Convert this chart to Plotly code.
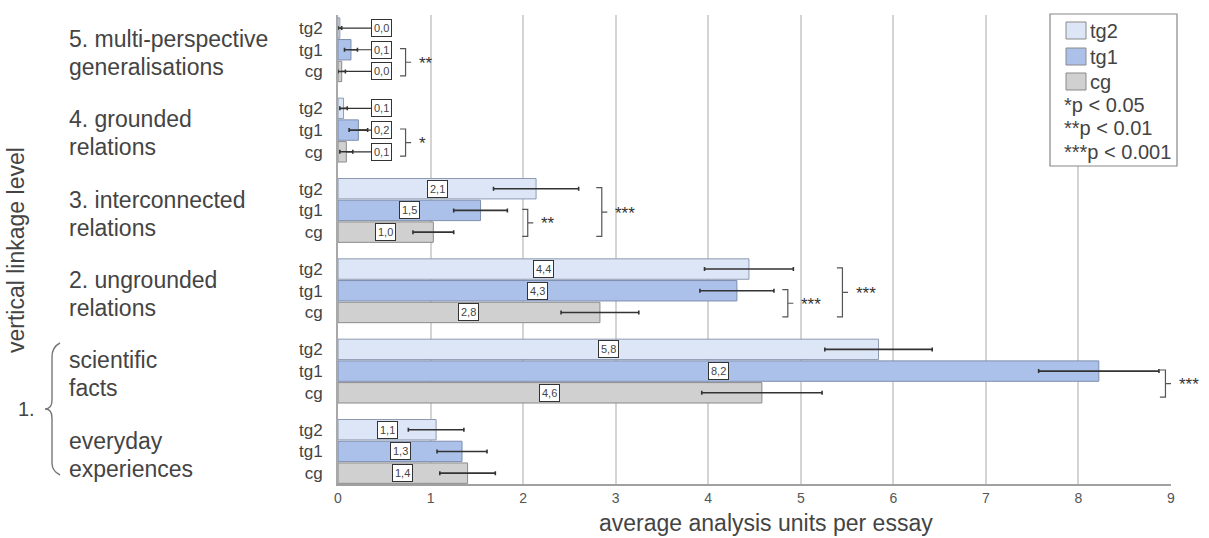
import plotly.graph_objects as go

# ---- data -------------------------------------------------------------
level_line1 = ["everyday", "scientific", "2. ungrounded", "3. interconnected",
               "4. grounded", "5. multi-perspective"]
level_line2 = ["experiences", "facts", "relations", "relations",
               "relations", "generalisations"]
groups = ["tg2", "tg1", "cg"]

tg2_mean = [1.06, 5.84, 4.44, 2.14, 0.06, 0.02]
tg1_mean = [1.34, 8.22, 4.31, 1.54, 0.22, 0.14]
cg_mean = [1.40, 4.58, 2.83, 1.03, 0.09, 0.04]

tg2_err = [0.30, 0.58, 0.48, 0.46, 0.04, 0.02]
tg1_err = [0.27, 0.65, 0.40, 0.29, 0.10, 0.07]
cg_err = [0.30, 0.65, 0.42, 0.22, 0.07, 0.04]

# significance comparisons: level index, compared groups, stars
sig_level = [5, 4, 3, 3, 2, 2, 1]
sig_upper = ["tg1", "tg1", "tg1", "tg2", "tg1", "tg2", "tg1"]
sig_lower = ["cg", "cg", "cg", "cg", "cg", "cg", "cg"]
sig_stars = ["**", "*", "**", "***", "***", "***", "***"]
sig_xpos = [0.73, 0.73, 2.05, 2.85, 4.86, 5.45, 8.94]

legend_notes = ["*p < 0.05", "**p < 0.01", "***p < 0.001"]

# ---- styling ----------------------------------------------------------
FONT = "Liberation Sans, Arial, sans-serif"
TXT = "#444444"
fill = {"tg2": "#dce6f6", "tg1": "#abc1ea", "cg": "#d0d0d0"}
edge = {"tg2": "#8d9ab0", "tg1": "#7d8eae", "cg": "#8a8a8a"}
slot = {"cg": 0, "tg1": 1, "tg2": 2}
GROUP_STEP = 3.7
X_MAX = 9

L, R, T, B = 338, 38, 15, 54
W, H = 1209, 538
PW, PH = W - L - R, H - T - B


def px_x(px):
    return (px - L) / PW


def px_y(py):
    return (H - B - py) / PH


def ypos(level, grp):
    return level * GROUP_STEP + slot[grp]


means = {"tg2": tg2_mean, "tg1": tg1_mean, "cg": cg_mean}
errs = {"tg2": tg2_err, "tg1": tg1_err, "cg": cg_err}

fig = go.Figure()
for g in ["cg", "tg1", "tg2"]:
    fig.add_trace(go.Bar(
        orientation="h",
        x=means[g],
        y=[ypos(i, g) for i in range(len(means[g]))],
        width=0.94,
        name=g,
        marker=dict(color=fill[g], line=dict(color=edge[g], width=1)),
        error_x=dict(type="data", array=errs[g], color="#333333",
                     thickness=1.6, width=2),
        showlegend=False,
        hoverinfo="x+name",
    ))

annotations = []
shapes = []

# value labels in small boxes
LABEL_MIN = 0.47
for g in groups:
    for i, v in enumerate(means[g]):
        y = ypos(i, g)
        txt = f"{v:.1f}".replace(".", ",")
        lx = max(v / 2, LABEL_MIN)
        common = dict(text=txt, font=dict(family=FONT, size=11, color=TXT),
                      bgcolor="white", bordercolor="#333333", borderwidth=1,
                      borderpad=2)
        if v / 2 < LABEL_MIN:
            annotations.append(dict(x=v, y=y, xref="x", yref="y",
                                    ax=lx, ay=y, axref="x", ayref="y",
                                    showarrow=True, arrowhead=0, arrowwidth=1.2,
                                    arrowcolor="#333333", standoff=0, **common))
        else:
            annotations.append(dict(x=lx, y=y, xref="x", yref="y",
                                    showarrow=False, **common))

# significance brackets
TICK = 0.06
for lev, up, lo, stars, bx in zip(sig_level, sig_upper, sig_lower, sig_stars, sig_xpos):
    y1 = ypos(lev, up) + 0.05
    y2 = ypos(lev, lo) - 0.2
    ym = (y1 + y2) / 2
    path = (f"M {bx - TICK},{y1} L {bx},{y1} L {bx},{y2} L {bx - TICK},{y2} "
            f"M {bx},{ym} L {bx + TICK},{ym}")
    shapes.append(dict(type="path", path=path, xref="x", yref="y",
                       line=dict(color="#555555", width=1.2)))
    # stars are placed in paper units so they may sit past the axis end
    annotations.append(dict(x=(bx + 0.12) / X_MAX, y=ym - 0.05,
                            xref="paper", yref="y",
                            text=stars, showarrow=False, xanchor="left",
                            yanchor="middle",
                            font=dict(family=FONT, size=17, color="#333333")))

# level names on the left
for i in range(len(level_line1)):
    yc = ypos(i, "tg1")
    annotations.append(dict(x=px_x(67), y=yc + 0.5, xref="paper", yref="y",
                            text=level_line1[i], showarrow=False, xanchor="left",
                            yanchor="middle",
                            font=dict(family=FONT, size=23, color=TXT)))
    annotations.append(dict(x=px_x(67), y=yc - 0.8, xref="paper", yref="y",
                            text=level_line2[i], showarrow=False, xanchor="left",
                            yanchor="middle",
                            font=dict(family=FONT, size=23, color=TXT)))

# level 1 brace and number
bp = [(60, 343), (52, 347), (52, 357), (52, 400), (52, 409), (45, 409),
      (52, 409), (52, 418), (52, 463), (52, 471), (60, 475)]
c = [(px_x(a), px_y(b)) for a, b in bp]
brace = (f"M {c[0][0]},{c[0][1]} Q {c[1][0]},{c[1][1]} {c[2][0]},{c[2][1]} "
         f"L {c[3][0]},{c[3][1]} Q {c[4][0]},{c[4][1]} {c[5][0]},{c[5][1]} "
         f"Q {c[6][0]},{c[6][1]} {c[7][0]},{c[7][1]} "
         f"L {c[8][0]},{c[8][1]} Q {c[9][0]},{c[9][1]} {c[10][0]},{c[10][1]}")
shapes.append(dict(type="path", path=brace, xref="paper", yref="paper",
                   line=dict(color="#777777", width=1.4)))
annotations.append(dict(x=px_x(26), y=px_y(409), xref="paper", yref="paper",
                        text="1.", showarrow=False, xanchor="center",
                        yanchor="middle",
                        font=dict(family=FONT, size=20, color=TXT)))

# axis titles
annotations.append(dict(x=px_x(16), y=px_y(250), xref="paper", yref="paper",
                        text="vertical linkage level", textangle=-90,
                        showarrow=False, xanchor="center", yanchor="middle",
                        font=dict(family=FONT, size=23, color=TXT)))
annotations.append(dict(x=px_x(766), y=px_y(523), xref="paper", yref="paper",
                        text="average analysis units per essay",
                        showarrow=False, xanchor="center", yanchor="middle",
                        font=dict(family=FONT, size=23, color=TXT)))

# legend box
shapes.append(dict(type="rect", xref="paper", yref="paper",
                   x0=px_x(1050), x1=px_x(1177), y0=px_y(166), y1=px_y(14),
                   fillcolor="white", line=dict(color="#888888", width=1.2)))
sq_top = [22, 48, 73]
for g, top in zip(groups, sq_top):
    shapes.append(dict(type="rect", xref="paper", yref="paper",
                       x0=px_x(1066), x1=px_x(1086),
                       y0=px_y(top + 17), y1=px_y(top),
                       fillcolor=fill[g], line=dict(color="#8a8a8a", width=1)))
    annotations.append(dict(x=px_x(1088), y=px_y(top + 9), xref="paper",
                            yref="paper", text=g, showarrow=False,
                            xanchor="left", yanchor="middle",
                            font=dict(family=FONT, size=20, color=TXT)))
for note, yc in zip(legend_notes, [105, 128, 152]):
    annotations.append(dict(x=px_x(1062), y=px_y(yc), xref="paper",
                            yref="paper", text=note, showarrow=False,
                            xanchor="left", yanchor="middle",
                            font=dict(family=FONT, size=20, color=TXT)))

n_levels = len(level_line1)
tickvals = [ypos(i, g) for i in range(n_levels) for g in groups]
ticktext = [g for i in range(n_levels) for g in groups]

fig.update_layout(
    width=W, height=H,
    margin=dict(l=L, r=R, t=T, b=B, pad=0),
    paper_bgcolor="white", plot_bgcolor="white",
    barmode="overlay",
    font=dict(family=FONT, color=TXT),
    xaxis=dict(range=[0, X_MAX], dtick=1, tick0=0, showgrid=True,
               gridcolor="#d4d4d4", gridwidth=2, zeroline=False,
               showline=True, linecolor="#a0a0a0", linewidth=2,
               ticks="", ticklabelstandoff=0,
               tickfont=dict(family=FONT, size=14, color="#555555"),
               fixedrange=True),
    yaxis=dict(range=[-0.5, 21.1], tickvals=tickvals, ticktext=ticktext,
               showgrid=False, zeroline=False, showline=True,
               linecolor="#a8a8a8", linewidth=2, ticks="",
               ticklabelstandoff=10,
               tickfont=dict(family=FONT, size=17, color=TXT),
               fixedrange=True),
    annotations=annotations,
    shapes=shapes,
)

fig.write_html("out.html")
